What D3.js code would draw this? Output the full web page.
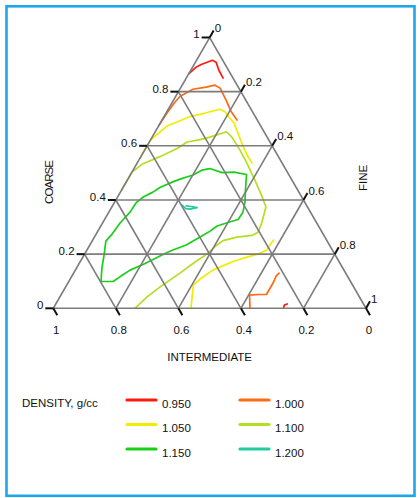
<!DOCTYPE html>
<html>
<head>
<meta charset="utf-8">
<script src="https://cdn.jsdelivr.net/npm/d3@7/dist/d3.min.js"></script>
<style>
  body { margin: 0; background: #fff; }
  svg text { font-family: "Liberation Sans", Arial, sans-serif; font-size: 11.5px; fill: #111; }
</style>
</head>
<body>
<script>
const chartWidth = 420;
const chartHeight = 498;

// ternary frame: left / right corner of the base, base line
const plot = { left: 53.3, right: 366, bottom: 308.3 };
plot.top = plot.bottom - (plot.right - plot.left) * Math.sqrt(3) / 2;

const tickLength = 8;

// values in the key
const densityLevels = ['0.950', '1.000', '1.050', '1.100', '1.150', '1.200'];
const tickValues = [0, 0.2, 0.4, 0.6, 0.8, 1];
const gridValues = [0.2, 0.4, 0.6, 0.8];

// contour traces, point = [coarse, fine]  (intermediate = 1 - coarse - fine)
const d0950Top = [[0.866, 0.0], [0.890, 0.011], [0.900, 0.023], [0.916, 0.051], [0.909, 0.066], [0.879, 0.090], [0.850, 0.118]];
const d0950Base = [[0.0, 0.736], [0.012, 0.733], [0.016, 0.740]];
const d1000Top = [[0.676, 0.0], [0.720, 0.003], [0.760, 0.008], [0.783, 0.014], [0.809, 0.042], [0.817, 0.080], [0.824, 0.105],
  [0.813, 0.127], [0.769, 0.168], [0.728, 0.204], [0.695, 0.240]];
const d1000Base = [[0.0, 0.629], [0.049, 0.603], [0.051, 0.629], [0.051, 0.656], [0.075, 0.656], [0.097, 0.656], [0.119, 0.653], [0.130, 0.657]];
const d1050Top = [[0.555, 0.0], [0.621, 0.0], [0.651, 0.016], [0.673, 0.027], [0.688, 0.052], [0.708, 0.083], [0.721, 0.125],
  [0.735, 0.165], [0.726, 0.186], [0.702, 0.214], [0.684, 0.236], [0.647, 0.267], [0.599, 0.307], [0.566, 0.337], [0.536, 0.367]];
const d1050Base = [[0.0, 0.440], [0.042, 0.423], [0.086, 0.405], [0.108, 0.415], [0.141, 0.440], [0.152, 0.457], [0.173, 0.488],
  [0.189, 0.525], [0.200, 0.554], [0.215, 0.576], [0.234, 0.576], [0.252, 0.578]];
const d1100 = [[0.437, 0.0], [0.503, 0.0], [0.534, 0.020], [0.560, 0.061], [0.590, 0.101], [0.614, 0.121], [0.623, 0.158],
  [0.632, 0.185], [0.652, 0.228], [0.632, 0.255], [0.584, 0.305], [0.536, 0.351], [0.473, 0.408], [0.414, 0.460], [0.374, 0.493],
  [0.318, 0.508], [0.282, 0.515], [0.269, 0.501], [0.263, 0.456], [0.250, 0.418], [0.228, 0.403], [0.200, 0.391], [0.171, 0.368],
  [0.130, 0.340], [0.079, 0.302], [0.042, 0.279], [0.0, 0.261]];
const d1150 = [[0.099, 0.103], [0.099, 0.142], [0.119, 0.157], [0.141, 0.175], [0.162, 0.206], [0.180, 0.229], [0.202, 0.256],
  [0.215, 0.275], [0.234, 0.308], [0.263, 0.338], [0.285, 0.359], [0.304, 0.372], [0.317, 0.400], [0.328, 0.427], [0.355, 0.429],
  [0.392, 0.417], [0.437, 0.396], [0.494, 0.371], [0.503, 0.326], [0.501, 0.289], [0.516, 0.243], [0.510, 0.220], [0.492, 0.201],
  [0.477, 0.167], [0.466, 0.147], [0.446, 0.118], [0.429, 0.104], [0.411, 0.082], [0.389, 0.070], [0.355, 0.068], [0.315, 0.056],
  [0.274, 0.051], [0.248, 0.044], [0.197, 0.064], [0.149, 0.081]];
const d1200 = [[0.381, 0.221], [0.368, 0.240], [0.366, 0.254], [0.372, 0.274], [0.376, 0.253], [0.378, 0.236]];

const contours = [
  { level: '0.950', points: d0950Top },
  { level: '0.950', points: d0950Base },
  { level: '1.000', points: d1000Top },
  { level: '1.000', points: d1000Base },
  { level: '1.050', points: d1050Top },
  { level: '1.050', points: d1050Base },
  { level: '1.100', points: d1100 },
  { level: '1.150', points: d1150, closed: true },
  { level: '1.200', points: d1200 }
];

const levelColours = {
  '0.950': '#ff1a10',
  '1.000': '#ff6a12',
  '1.050': '#f2ec00',
  '1.100': '#b2e020',
  '1.150': '#18d018',
  '1.200': '#22cca0'
};

const svg = d3.select('body').append('svg')
    .attr('xmlns', 'http://www.w3.org/2000/svg')
    .attr('width', chartWidth)
    .attr('height', chartHeight);

// scales: fine + coarse/2 runs along the base, coarse runs up
const xScale = d3.scaleLinear().domain([0, 1]).range([plot.left, plot.right]);
const yScale = d3.scaleLinear().domain([0, 1]).range([plot.bottom, plot.top]);
const project = d => [xScale(d[1] + d[0] / 2), yScale(d[0])];

// frame
svg.append('rect')
    .attr('x', 6.5)
    .attr('y', 6.3)
    .attr('width', 408)
    .attr('height', 489.5)
    .attr('fill', 'none')
    .attr('stroke', '#1ea6ea')
    .attr('stroke-width', 2.6);

// contour lines
const contourGroup = svg.append('g');

contours.forEach(c => {
  const line = d3.line()
      .x(d => project(d)[0])
      .y(d => project(d)[1])
      .curve(c.closed ? d3.curveLinearClosed : d3.curveLinear);

  contourGroup.append('path')
      .attr('d', line(c.points))
      .attr('fill', 'none')
      .attr('stroke', levelColours[c.level])
      .attr('stroke-width', 1.7)
      .attr('stroke-linejoin', 'round')
      .attr('stroke-linecap', 'round');
});

// grid
const grid = svg.append('g')
    .attr('stroke', '#7c7c7c')
    .attr('stroke-width', 1.6)
    .attr('fill', 'none');

const gridLines = [];
gridValues.forEach(v => {
  gridLines.push([[v, 0], [v, 1 - v]]);        // coarse
  gridLines.push([[0, 1 - v], [1 - v, 0]]);    // intermediate
  gridLines.push([[0, v], [1 - v, v]]);        // fine
});

grid.selectAll('line.grid')
    .data(gridLines)
  .enter().append('line')
    .attr('class', 'grid')
    .attr('x1', d => project(d[0])[0])
    .attr('y1', d => project(d[0])[1])
    .attr('x2', d => project(d[1])[0])
    .attr('y2', d => project(d[1])[1]);

grid.append('path')
    .attr('d', 'M' + [[0, 0], [0, 1], [1, 0]].map(project).join('L') + 'Z')
    .attr('stroke-linejoin', 'miter');

// ticks
const dx = tickLength / 2;
const dy = tickLength * Math.sqrt(3) / 2;
const ticks = svg.append('g')
    .attr('stroke', '#111')
    .attr('stroke-width', 2);

const leftTicks = tickValues.map(v => ({ p: project([v, 0]), v }));
const rightTicks = tickValues.map(v => ({ p: project([1 - v, v]), v }));
const baseTicks = tickValues.map(v => ({ p: project([0, 1 - v]), v }));

ticks.selectAll('line.left').data(leftTicks).enter().append('line')
    .attr('x1', d => d.p[0]).attr('y1', d => d.p[1])
    .attr('x2', d => d.p[0] - tickLength).attr('y2', d => d.p[1]);

ticks.selectAll('line.right').data(rightTicks).enter().append('line')
    .attr('x1', d => d.p[0]).attr('y1', d => d.p[1])
    .attr('x2', d => d.p[0] + dx).attr('y2', d => d.p[1] - dy);

ticks.selectAll('line.base').data(baseTicks).enter().append('line')
    .attr('x1', d => d.p[0]).attr('y1', d => d.p[1])
    .attr('x2', d => d.p[0] + dx).attr('y2', d => d.p[1] + dy);

// tick labels
svg.append('g').selectAll('text').data(leftTicks).enter().append('text')
    .attr('text-anchor', 'end')
    .attr('x', d => d.p[0] - tickLength - 2)
    .attr('y', d => d.p[1] + 1)
    .text(d => String(d.v));

svg.append('g').selectAll('text').data(rightTicks).enter().append('text')
    .attr('x', d => d.p[0] + dx + 1)
    .attr('y', d => d.p[1] - dy + 1.5)
    .text(d => String(d.v));

svg.append('g').selectAll('text').data(baseTicks).enter().append('text')
    .attr('text-anchor', 'middle')
    .attr('x', d => d.p[0] + 3)
    .attr('y', plot.bottom + 26)
    .text(d => String(d.v));

// axis titles
svg.append('text')
    .attr('text-anchor', 'middle')
    .attr('x', xScale(0.5))
    .attr('y', 361)
    .text('INTERMEDIATE');

svg.append('text')
    .attr('text-anchor', 'middle')
    .attr('transform', 'translate(53,182) rotate(-90)')
    .attr('textLength', 44)
    .text('COARSE');

svg.append('text')
    .attr('text-anchor', 'middle')
    .attr('transform', 'translate(367,178) rotate(-90)')
    .text('FINE');

// key
svg.append('text')
    .attr('x', 22)
    .attr('y', 407)
    .text('DENSITY, g/cc');

const keyElements = svg.append('g')
    .attr('class', 'chart-key')
    .selectAll('g')
    .data(densityLevels)
  .enter().append('g')
    .attr('transform', (d, i) => `translate(${127 + (i % 2) * 113},${400 + Math.floor(i / 2) * 24.5})`);

keyElements.append('line')
    .attr('x1', 0)
    .attr('x2', 29)
    .attr('stroke', d => levelColours[d])
    .attr('stroke-width', 3.2)
    .attr('stroke-linecap', 'round');

keyElements.append('text')
    .attr('x', 35)
    .attr('y', 7.5)
    .text(d => d);
</script>
</body>
</html>
